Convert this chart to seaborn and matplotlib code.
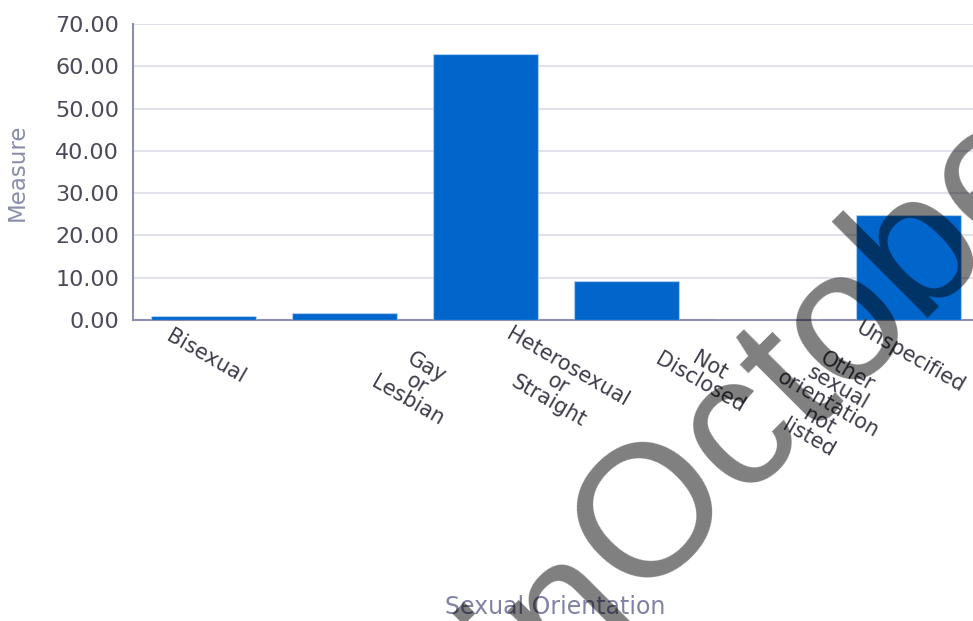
import matplotlib
matplotlib.use("Agg")
import matplotlib.pyplot as plt
from matplotlib.ticker import FormatStrFormatter
import seaborn as sns
import pandas as pd

# Share of respondents by sexual orientation
categories = [
    "Bisexual",
    "Gay\nor\nLesbian",
    "Heterosexual\nor\nStraight",
    "Not\nDisclosed",
    "Other\nsexual\norientation\nnot\nlisted",
    "Unspecified",
]
values = [1.0, 1.6, 62.8, 9.3, 0.0, 24.9]
y_ticks = [0, 10, 20, 30, 40, 50, 60, 70]

df = pd.DataFrame({"orientation": [c.replace("\n", " ") for c in categories],
                   "measure": values})

sns.set_style("white")
plt.rcParams["font.family"] = ["DejaVu Sans"]

W, H = 973, 621
fig = plt.figure(figsize=(W / 100, H / 100), dpi=100, facecolor="white")

# plot area: left edge 133px, top 24px, baseline 320px, 141px per category
left, top, base, step = 133, 24, 320, 141
ax = fig.add_axes([left / W, (H - base) / H, 6 * step / W, (base - top) / H])

sns.barplot(data=df, x="orientation", y="measure", color="#0066cc",
            saturation=1, width=0.75, ax=ax,
            edgecolor=(1, 1, 1, 0.35), linewidth=1, zorder=3)

ax.set_xlim(-0.5, 5.5)
ax.set_ylim(0, 70)
ax.set_yticks(y_ticks)
ax.yaxis.set_major_formatter(FormatStrFormatter("%.2f"))
ax.grid(axis="y", color="#e2e2ec", linewidth=1.5, zorder=0)
ax.set_axisbelow(True)

axis_col = "#8c8eb0"
for side in ("top", "right"):
    ax.spines[side].set_visible(False)
ax.spines["left"].set_color(axis_col)
ax.spines["left"].set_linewidth(1.5)
ax.spines["bottom"].set_color(axis_col)
ax.spines["bottom"].set_linewidth(1.5)

ax.tick_params(axis="y", length=0, pad=10, labelsize=16, labelcolor="#4a4a58")
ax.tick_params(axis="x", length=0)
ax.set_xticks(range(len(categories)))
ax.set_xticklabels([""] * len(categories))

ax.set_ylabel("Measure", fontsize=16.5, color="#8a8cac", labelpad=19)
ax.set_xlabel("")
fig.text(555 / W, 1 - 607 / H, "Sexual Orientation", fontsize=17,
         color="#7f81a6", ha="center", va="center")

# rotated, multi-line category labels under the axis
line_step = 23.5
dxl, dyl = -0.5 * line_step, 0.866 * line_step
for i, lab in enumerate(categories):
    n = lab.count("\n") + 1
    if n == 1:
        cx, cy = 2, 37
    else:
        cx = 84 + (n - 1) / 2 * dxl
        cy = 44 + (n - 1) / 2 * dyl
    ax.annotate(lab, xy=(i, 0), xycoords="data",
                xytext=(cx, -cy), textcoords="offset pixels",
                rotation=-30, rotation_mode="anchor",
                ha="center", va="center", multialignment="center",
                fontsize=15, color="#3c3c4a", linespacing=0.95,
                annotation_clip=False)

# diagonal watermark across the chart
wm_x, wm_y = 639.8 / W, 1 - 607 / H
wm_kw = dict(fontsize=135, family="Liberation Sans", color="black",
             alpha=0.5, rotation=45, rotation_mode="anchor",
             va="baseline", zorder=10)
fig.text(wm_x, wm_y, "in", ha="right", **wm_kw)
fig.text(wm_x, wm_y, "October 2024", ha="left", **wm_kw)

fig.savefig("out.png", dpi=100, facecolor="white")
